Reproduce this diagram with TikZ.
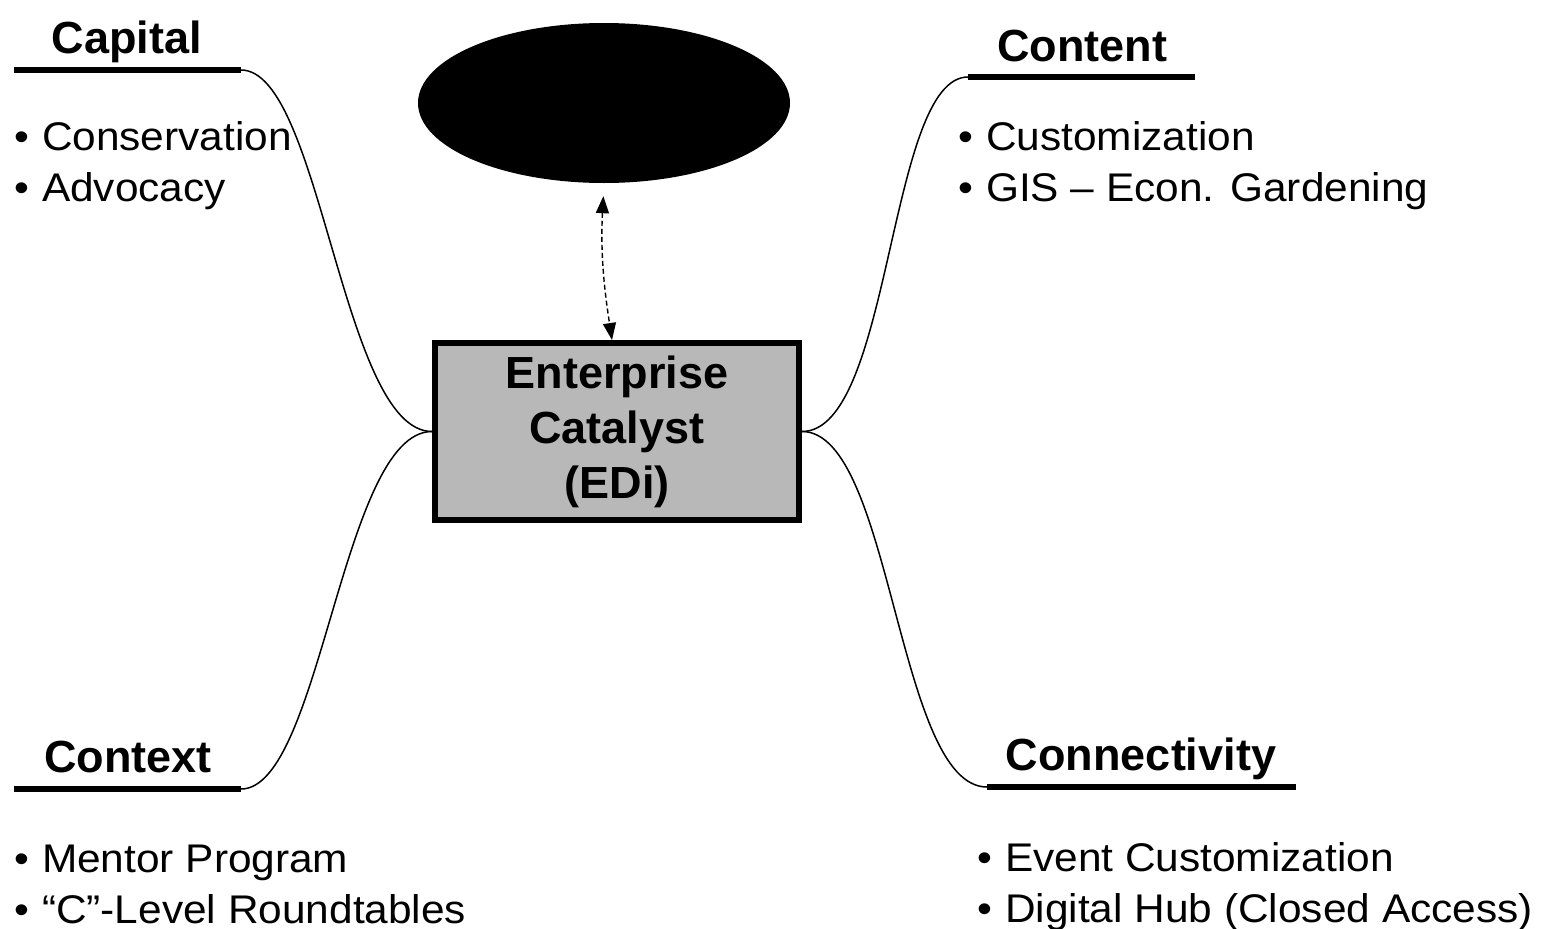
\documentclass[tikz,border=0pt]{standalone}
\usepackage{fontspec}
\setmainfont{Liberation Sans}
\newfontfamily\itemfont{Liberation Sans}[FakeStretch=1.06]
\usetikzlibrary{arrows.meta,shapes.geometric}
\newcommand\itembul{•\hspace{13pt}}
\begin{document}
\begin{tikzpicture}[x=1pt,y=-1pt,
  head/.style={font=\bfseries\fontsize{45}{54}\selectfont, inner sep=0pt, anchor=base},
  item/.style={font=\itemfont\fontsize{40}{48}\selectfont, inner sep=0pt, anchor=base west},
  uline/.style={line width=6pt},
  branch/.style={line width=1.5pt},
  hub/.style={draw, line width=6pt, fill=black!28, minimum width=364pt, minimum height=177pt,
    align=center, inner sep=0pt, font=\bfseries\fontsize{45}{55}\selectfont},
  blob/.style={ellipse, fill=black, draw=none, minimum width=372pt, minimum height=160pt, inner sep=0pt},
  link/.style={dashed, dash pattern=on 5pt off 3pt, line width=1.4pt,
    {Triangle[length=17pt,width=13pt]}-{Triangle[length=17pt,width=13pt]}}
]
\useasboundingbox (0,0) rectangle (1545,929);

% central elements
\node[hub] (box) at (617,431.5) {Enterprise\\Catalyst\\(EDi)};
\node[blob] (ell) at (604,103) {};
\draw[link, shorten <=13pt] (ell.south) .. controls (600,260) and (606,300) .. ([xshift=-5pt]box.north);

% Capital
\node[head] (capH) at (127,53) {Capital};
\coordinate (capL) at (14,70);
\coordinate (capR) at (241,70);
\draw[uline] (capL) -- (capR);
\node[item] (cap1) at (14,150) {\itembul Conservation};
\node[item] (cap2) at (14,201) {\itembul Advocacy};
\draw[branch] (capR) .. controls +(80,0) and +(-90,0) .. (box.west);

% Content
\node[head] (conH) at (1082,61) {Content};
\coordinate (conL) at (968,77);
\coordinate (conR) at (1195,77);
\draw[uline] (conL) -- (conR);
\node[item] (con1) at (958,150) {\itembul Customization};
\node[item] (con2) at (958,201) {\itembul GIS – Econ. Gardening};
\draw[branch] (box.east) .. controls +(90,0) and +(-80,0) .. (conL);

% Context
\node[head] (ctxH) at (128,772) {Context};
\coordinate (ctxL) at (14,789);
\coordinate (ctxR) at (241,789);
\draw[uline] (ctxL) -- (ctxR);
\node[item] (ctx1) at (14,872) {\itembul Mentor Program};
\node[item] (ctx2) at (14,923) {\itembul “C”-Level Roundtables};
\draw[branch] (ctxR) .. controls +(80,0) and +(-90,0) .. (box.west);

% Connectivity
\node[head] (cnnH) at (1141,770) {Connectivity};
\coordinate (cnnL) at (987,787);
\coordinate (cnnR) at (1296,787);
\draw[uline] (cnnL) -- (cnnR);
\node[item] (cnn1) at (977,871) {\itembul Event Customization};
\node[item] (cnn2) at (977,922) {\itembul Digital Hub (Closed Access)};
\draw[branch] (box.east) .. controls +(90,0) and +(-90,0) .. (cnnL);
\end{tikzpicture}
\end{document}
